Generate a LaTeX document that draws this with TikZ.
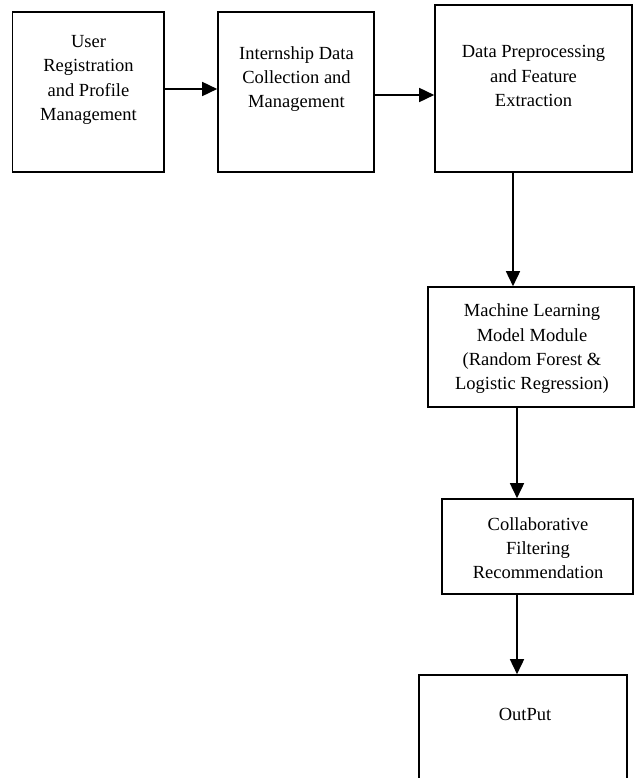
\documentclass[tikz,border=0pt]{standalone}
\usepackage{fontspec}
\setmainfont{Liberation Serif}
\usetikzlibrary{arrows.meta}
\tikzset{>={Triangle[length=15pt,width=14pt]}}
\tikzset{
  block/.style = {draw, line width=1.6pt, inner sep=0pt},
  blocktext/.style = {align=center, inner sep=0pt,
    font=\fontsize{18.5}{24.3}\selectfont},
  flow/.style = {->, line width=1.6pt}
}

\begin{document}
\begin{tikzpicture}[x=1pt,y=-1pt]
  \useasboundingbox (0,0) rectangle (638,778);
  \clip (0,0) rectangle (638,778);
  % boxes
  \node[block, minimum width=151.5pt, minimum height=160pt] (user) at (88.25,92) {};
  \node[block, minimum width=156pt, minimum height=160pt] (intern) at (296,92) {};
  \node[block, minimum width=197pt, minimum height=167pt] (prep) at (533.5,88.5) {};
  \node[block, minimum width=206pt, minimum height=120pt] (model) at (531,347) {};
  \node[block, minimum width=191pt, minimum height=95pt] (cf) at (537.5,546.5) {};
  \node[block, minimum width=208pt, minimum height=140pt] (out) at (523,745) {};
  % texts
  \node[blocktext] (usertxt) at (88.5,80) {User\\Registration\\and Profile\\Management};
  \node[blocktext] (interntxt) at (296.5,79) {Internship Data\\Collection and\\Management};
  \node[blocktext] (preptxt) at (533.5,76) {Data Preprocessing\\and Feature\\Extraction};
  \node[blocktext] (modeltxt) at (532,349) {Machine Learning\\Model Module\\(Random Forest \&\\Logistic Regression)};
  \node[blocktext] (cftxt) at (538,548) {Collaborative\\Filtering\\Recommendation};
  \node[blocktext] (outtxt) at (525,714) {OutPut};
  % arrows
  \draw[flow] ([yshift=3pt]user.east) -- ([yshift=3pt]intern.west);
  \draw[flow] ([yshift=-3pt]intern.east) -- ([yshift=-6.5pt]prep.west);
  \draw[flow] ([xshift=-20.5pt]prep.south) -- ([xshift=-18pt]model.north);
  \draw[flow] ([xshift=-14pt]model.south) -- ([xshift=-20.5pt]cf.north);
  \draw[flow] ([xshift=-20.5pt]cf.south) -- ([xshift=-6pt]out.north);
\end{tikzpicture}
\end{document}
